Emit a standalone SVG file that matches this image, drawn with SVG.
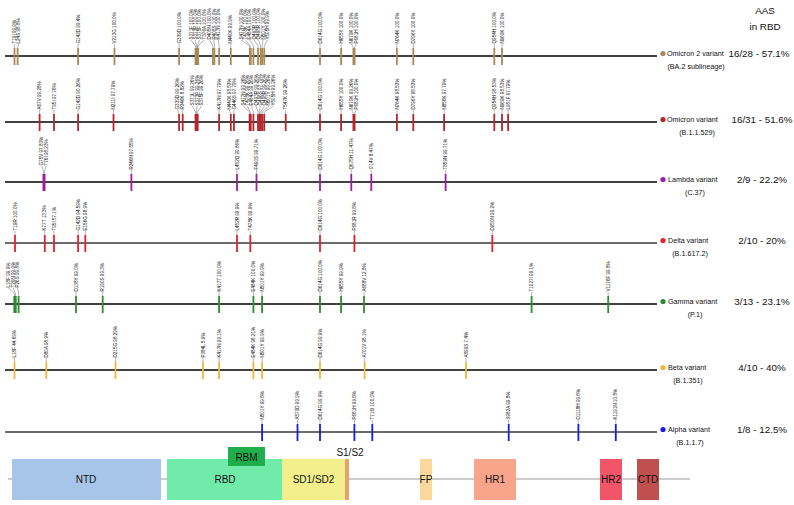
<svg xmlns="http://www.w3.org/2000/svg" width="794" height="505" viewBox="0 0 794 505">
<style>
.hl{stroke:#000;stroke-width:1.4}
.hg{stroke:#6b6b6b;stroke-width:2}
.t{stroke-width:1.8}
.ld{fill:none;stroke:#444;stroke-width:0.4}
.m{font-family:"Liberation Sans",Arial,sans-serif;font-size:4.6px;fill:#111}
.lg{font-family:"Liberation Sans",Arial,sans-serif;font-size:7.2px;fill:#111}
.sb{font-family:"Liberation Sans",Arial,sans-serif;font-size:7.2px;fill:#111;text-anchor:middle}
.nb{font-family:"Liberation Sans",Arial,sans-serif;font-size:9.8px;fill:#111;text-anchor:middle}
.dl{font-family:"Liberation Sans",Arial,sans-serif;font-size:10px;fill:#111;text-anchor:middle}
.o2{stroke:#A8895A}.om{stroke:#B5262E}.la{stroke:#9C1E9C}.de{stroke:#E8202A}.ga{stroke:#2E8B2E}.be{stroke:#F2B53A}.al{stroke:#1A1AE0}
</style>
<rect width="794" height="505" fill="#fff"/>
<text class="nb" x="765" y="14">AAS</text>
<text class="nb" x="765" y="30">in RBD</text>

<g id="connectors">
<!-- Omicron 2 -->
<line class="hl" x1="5" y1="56" x2="657" y2="56"/>
<polyline class="ld" points="14.5,48 14,44"/><polyline class="ld" points="17.6,48 18.6,44"/>
<polyline class="ld" points="78.1,48 78.1,44"/><polyline class="ld" points="114.5,48 114.5,44"/>
<polyline class="ld" points="179.1,48 179.1,44"/>
<polyline class="ld" points="195.5,48 195.5,46 191,40"/><polyline class="ld" points="196.5,48 196.5,46 195.3,40"/>
<polyline class="ld" points="197.5,48 197.5,46 199.6,40"/><polyline class="ld" points="198,48 198,46 203.9,40"/>
<polyline class="ld" points="212.9,48 212.9,46 209.5,40"/><polyline class="ld" points="214.4,48 214.4,46 214,40"/>
<polyline class="ld" points="219.1,48 219.1,46 218.5,40"/><polyline class="ld" points="230.8,48 230.8,44"/>
<polyline class="ld" points="249.8,48 249.8,46 241,40"/><polyline class="ld" points="250.3,48 250.3,46 245.4,40"/>
<polyline class="ld" points="253.4,48 253.4,46 249.8,40"/><polyline class="ld" points="258,48 258,46 254.2,40"/>
<polyline class="ld" points="260.6,48 260.6,46 258.6,40"/><polyline class="ld" points="262.1,48 262.1,46 263,40"/>
<polyline class="ld" points="264.2,48 264.2,46 267.4,40"/>
<polyline class="ld" points="320,48 320,44"/><polyline class="ld" points="341.1,48 341.1,44"/>
<polyline class="ld" points="353.4,48 351.5,44"/><polyline class="ld" points="354.4,48 356,44"/>
<polyline class="ld" points="396.9,48 396.9,44"/><polyline class="ld" points="413.3,48 413.3,44"/>
<polyline class="ld" points="494.3,48 494.3,44"/><polyline class="ld" points="502,48 502,44"/>
<!-- Omicron -->
<line class="hl" x1="5" y1="122" x2="657" y2="122"/>
<polyline class="ld" points="39.6,114 39.6,110"/><polyline class="ld" points="54,114 54,110"/>
<polyline class="ld" points="78.1,114 78.1,110"/><polyline class="ld" points="113.5,114 113.5,110"/>
<polyline class="ld" points="179.1,114 177.8,110"/><polyline class="ld" points="182.7,114 182.3,110"/>
<polyline class="ld" points="195.5,114 195.5,112 192.5,106"/><polyline class="ld" points="196.5,114 196.5,112 197,106"/>
<polyline class="ld" points="197.5,114 197.5,112 201.5,106"/>
<polyline class="ld" points="219.1,114 219.1,110"/>
<polyline class="ld" points="230.8,114 229.3,110"/><polyline class="ld" points="233.9,114 234,110"/>
<polyline class="ld" points="249.8,114 249.8,112 243,106"/><polyline class="ld" points="250.3,114 250.3,112 247.3,106"/>
<polyline class="ld" points="253.4,114 253.4,112 251.6,106"/><polyline class="ld" points="258,114 258,112 255.9,106"/>
<polyline class="ld" points="259.5,114 259.5,112 260.2,106"/><polyline class="ld" points="260.6,114 260.6,112 264.5,106"/>
<polyline class="ld" points="262.1,114 262.1,112 268.8,106"/><polyline class="ld" points="264.2,114 264.2,112 273.1,106"/>
<polyline class="ld" points="285.7,114 285.7,110"/><polyline class="ld" points="320,114 320,110"/>
<polyline class="ld" points="341.1,114 341.1,110"/><polyline class="ld" points="353.4,114 351.8,110"/>
<polyline class="ld" points="354.4,114 356.2,110"/><polyline class="ld" points="396.9,114 396.9,110"/>
<polyline class="ld" points="413.3,114 413.3,110"/><polyline class="ld" points="444.1,114 444.1,110"/>
<polyline class="ld" points="494.3,114 494.3,110"/><polyline class="ld" points="502,114 502,110"/>
<polyline class="ld" points="508.1,114 508.1,110"/>
<!-- Lambda -->
<line class="hl" x1="5" y1="182" x2="657" y2="182"/>
<polyline class="ld" points="43.7,174 43.7,172 41.8,166"/><polyline class="ld" points="44.3,174 44.3,172 46.2,166"/>
<polyline class="ld" points="131.4,174 131.4,170"/><polyline class="ld" points="237,174 237,170"/>
<polyline class="ld" points="256.5,174 256.5,170"/><polyline class="ld" points="320,174 320,170"/>
<polyline class="ld" points="351.3,174 351.3,170"/><polyline class="ld" points="371.3,174 371.3,170"/>
<polyline class="ld" points="445.6,174 445.6,170"/>
<!-- Delta -->
<line class="hg" x1="5" y1="243" x2="657" y2="243"/>
<polyline class="ld" points="15,235 15,231"/><polyline class="ld" points="44.8,235 44.8,231"/>
<polyline class="ld" points="54,235 54,231"/><polyline class="ld" points="78.1,235 78.1,231"/>
<polyline class="ld" points="85.3,235 85.3,231"/><polyline class="ld" points="237,235 237,231"/>
<polyline class="ld" points="250.3,235 250.3,231"/><polyline class="ld" points="320,235 320,231"/>
<polyline class="ld" points="354.4,235 354.4,231"/><polyline class="ld" points="492.3,235 492.3,231"/>
<!-- Gamma -->
<line class="hl" x1="5" y1="304" x2="657" y2="304"/>
<polyline class="ld" points="14.5,296 14.5,294 8.5,288"/><polyline class="ld" points="15.6,296 15.6,294 13,288"/>
<polyline class="ld" points="18.6,296 18.6,294 17.5,288"/>
<polyline class="ld" points="76,296 76,292"/><polyline class="ld" points="102.7,296 102.7,292"/>
<polyline class="ld" points="219.1,296 219.1,292"/><polyline class="ld" points="253.4,296 253.4,292"/>
<polyline class="ld" points="262.1,296 262.1,292"/><polyline class="ld" points="320,296 320,292"/>
<polyline class="ld" points="341.1,296 341.1,292"/><polyline class="ld" points="364,296 364,292"/>
<polyline class="ld" points="531.6,296 531.6,292"/><polyline class="ld" points="608.2,296 608.2,292"/>
<!-- Beta -->
<line class="hl" x1="5" y1="370" x2="657" y2="370"/>
<polyline class="ld" points="14.5,362 14.5,358"/><polyline class="ld" points="46.3,362 46.3,358"/>
<polyline class="ld" points="115.5,362 115.5,358"/><polyline class="ld" points="203,362 203,358"/>
<polyline class="ld" points="219.1,362 219.1,358"/><polyline class="ld" points="253.4,362 253.4,358"/>
<polyline class="ld" points="262.1,362 262.1,358"/><polyline class="ld" points="320,362 320,358"/>
<polyline class="ld" points="364.6,362 364.6,358"/><polyline class="ld" points="466,362 466,358"/>
<!-- Alpha -->
<line class="hg" x1="5" y1="432" x2="657" y2="432"/>
<polyline class="ld" points="262.1,424 262.1,420"/><polyline class="ld" points="297.5,424 297.5,420"/>
<polyline class="ld" points="320,424 320,420"/><polyline class="ld" points="354.4,424 354.4,420"/>
<polyline class="ld" points="372.3,424 372.3,420"/><polyline class="ld" points="508.7,424 508.7,420"/>
<polyline class="ld" points="578.4,424 578.4,420"/><polyline class="ld" points="615.8,424 615.8,420"/>
</g>

<g id="omicron2">
<g class="t o2">
<line x1="14.5" y1="48" x2="14.5" y2="65"/><line x1="17.6" y1="48" x2="17.6" y2="65"/><line x1="78.1" y1="48" x2="78.1" y2="65"/><line x1="114.5" y1="48" x2="114.5" y2="65"/><line x1="179.1" y1="48" x2="179.1" y2="65"/><line x1="195.5" y1="48" x2="195.5" y2="65"/><line x1="196.5" y1="48" x2="196.5" y2="65"/><line x1="197.5" y1="48" x2="197.5" y2="65"/><line x1="198.2" y1="48" x2="198.2" y2="65"/><line x1="212.9" y1="48" x2="212.9" y2="65"/><line x1="214.4" y1="48" x2="214.4" y2="65"/><line x1="219.1" y1="48" x2="219.1" y2="65"/><line x1="230.8" y1="48" x2="230.8" y2="65"/><line x1="249.8" y1="48" x2="249.8" y2="65"/><line x1="250.8" y1="48" x2="250.8" y2="65"/><line x1="253.4" y1="48" x2="253.4" y2="65"/><line x1="258" y1="48" x2="258" y2="65"/><line x1="260.6" y1="48" x2="260.6" y2="65"/><line x1="262.1" y1="48" x2="262.1" y2="65"/><line x1="264.2" y1="48" x2="264.2" y2="65"/><line x1="320" y1="48" x2="320" y2="65"/><line x1="341.1" y1="48" x2="341.1" y2="65"/><line x1="353.4" y1="48" x2="353.4" y2="65"/><line x1="354.6" y1="48" x2="354.6" y2="65"/><line x1="396.9" y1="48" x2="396.9" y2="65"/><line x1="413.3" y1="48" x2="413.3" y2="65"/><line x1="494.3" y1="48" x2="494.3" y2="65"/><line x1="502" y1="48" x2="502" y2="65"/>
</g>
<text class="m" transform="translate(15.6,43.5) rotate(-90)">T19I 99.9%</text>
<text class="m" transform="translate(20.2,43.5) rotate(-90)">L24S 98.8%</text>
<text class="m" transform="translate(79.7,43.5) rotate(-90)">G142D 99.4%</text>
<text class="m" transform="translate(116.1,43.5) rotate(-90)">V213G 100.0%</text>
<text class="m" transform="translate(180.7,43.5) rotate(-90)">G339D 100.0%</text>
<text class="m" transform="translate(192.6,39.5) rotate(-90)">S371F 100.0%</text>
<text class="m" transform="translate(196.9,39.5) rotate(-90)">S373P 100.0%</text>
<text class="m" transform="translate(201.2,39.5) rotate(-90)">S375F 100.0%</text>
<text class="m" transform="translate(205.5,39.5) rotate(-90)">T376A 100.0%</text>
<text class="m" transform="translate(211.1,39.5) rotate(-90)">D405N 100.0%</text>
<text class="m" transform="translate(215.6,39.5) rotate(-90)">R408S 100.0%</text>
<text class="m" transform="translate(220.1,39.5) rotate(-90)">K417N 100.0%</text>
<text class="m" transform="translate(232.4,43.5) rotate(-90)">N440K 99.9%</text>
<text class="m" transform="translate(242.6,39.5) rotate(-90)">S477N 100.0%</text>
<text class="m" transform="translate(247,39.5) rotate(-90)">T478K 100.0%</text>
<text class="m" transform="translate(251.4,39.5) rotate(-90)">E484A 100.0%</text>
<text class="m" transform="translate(255.8,39.5) rotate(-90)">Q493R 100.0%</text>
<text class="m" transform="translate(260.2,39.5) rotate(-90)">Q498R 100.0%</text>
<text class="m" transform="translate(264.6,39.5) rotate(-90)">N501Y 100.0%</text>
<text class="m" transform="translate(269,39.5) rotate(-90)">Y505H 99.9%</text>
<text class="m" transform="translate(321.6,43.5) rotate(-90)">D614G 100.0%</text>
<text class="m" transform="translate(342.7,43.5) rotate(-90)">H655Y 100.0%</text>
<text class="m" transform="translate(353.1,43.5) rotate(-90)">N679K 100.0%</text>
<text class="m" transform="translate(357.6,43.5) rotate(-90)">P681H 100.0%</text>
<text class="m" transform="translate(398.5,43.5) rotate(-90)">N764K 100.0%</text>
<text class="m" transform="translate(414.9,43.5) rotate(-90)">D796Y 100.0%</text>
<text class="m" transform="translate(495.9,43.5) rotate(-90)">Q954H 100.0%</text>
<text class="m" transform="translate(503.6,43.5) rotate(-90)">N969K 100.0%</text>
<circle cx="663" cy="53.5" r="2.6" fill="#A8895A"/>
<text class="lg" x="667" y="56">Omicron 2 variant</text>
<text class="sb" x="696" y="69">(BA.2 sublineage)</text>
<text class="nb" x="759" y="57">16/28 - 57.1%</text>
</g>

<g id="omicron">
<g class="t om">
<line x1="39.6" y1="114" x2="39.6" y2="131"/><line x1="54" y1="114" x2="54" y2="131"/><line x1="78.1" y1="114" x2="78.1" y2="131"/><line x1="113.5" y1="114" x2="113.5" y2="131"/><line x1="179.1" y1="114" x2="179.1" y2="131"/><line x1="182.7" y1="114" x2="182.7" y2="131"/><line x1="195.5" y1="114" x2="195.5" y2="131"/><line x1="196.6" y1="114" x2="196.6" y2="131"/><line x1="197.7" y1="114" x2="197.7" y2="131"/><line x1="219.1" y1="114" x2="219.1" y2="131"/><line x1="230.8" y1="114" x2="230.8" y2="131"/><line x1="233.9" y1="114" x2="233.9" y2="131"/><line x1="249.6" y1="114" x2="249.6" y2="131"/><line x1="250.8" y1="114" x2="250.8" y2="131"/><line x1="253.4" y1="114" x2="253.4" y2="131"/><line x1="258" y1="114" x2="258" y2="131"/><line x1="259.4" y1="114" x2="259.4" y2="131"/><line x1="260.7" y1="114" x2="260.7" y2="131"/><line x1="262.1" y1="114" x2="262.1" y2="131"/><line x1="264.2" y1="114" x2="264.2" y2="131"/><line x1="285.7" y1="114" x2="285.7" y2="131"/><line x1="320" y1="114" x2="320" y2="131"/><line x1="341.1" y1="114" x2="341.1" y2="131"/><line x1="353.4" y1="114" x2="353.4" y2="131"/><line x1="354.6" y1="114" x2="354.6" y2="131"/><line x1="396.9" y1="114" x2="396.9" y2="131"/><line x1="413.3" y1="114" x2="413.3" y2="131"/><line x1="444.1" y1="114" x2="444.1" y2="131"/><line x1="494.3" y1="114" x2="494.3" y2="131"/><line x1="502" y1="114" x2="502" y2="131"/><line x1="508.1" y1="114" x2="508.1" y2="131"/>
</g>
<text class="m" transform="translate(41.2,109.5) rotate(-90)">A67V 99.28%</text>
<text class="m" transform="translate(55.6,109.5) rotate(-90)">T95I 97.76%</text>
<text class="m" transform="translate(79.7,109.5) rotate(-90)">G142D 90.26%</text>
<text class="m" transform="translate(115.1,109.5) rotate(-90)">N211I 97.79%</text>
<text class="m" transform="translate(179.4,109.5) rotate(-90)">G339D 99.26%</text>
<text class="m" transform="translate(183.9,109.5) rotate(-90)">R346K 8.82%</text>
<text class="m" transform="translate(194.1,105.5) rotate(-90)">S371L 99.26%</text>
<text class="m" transform="translate(198.6,105.5) rotate(-90)">S373P 99.26%</text>
<text class="m" transform="translate(203.1,105.5) rotate(-90)">S375F 99.26%</text>
<text class="m" transform="translate(220.7,109.5) rotate(-90)">K417N 97.79%</text>
<text class="m" transform="translate(230.9,109.5) rotate(-90)">N440K 98.53%</text>
<text class="m" transform="translate(235.6,109.5) rotate(-90)">G446S 97.79%</text>
<text class="m" transform="translate(244.6,105.5) rotate(-90)">S477N 99.26%</text>
<text class="m" transform="translate(248.9,105.5) rotate(-90)">T478K 99.26%</text>
<text class="m" transform="translate(253.2,105.5) rotate(-90)">E484A 99.26%</text>
<text class="m" transform="translate(257.5,105.5) rotate(-90)">Q493R 99.26%</text>
<text class="m" transform="translate(261.8,105.5) rotate(-90)">G496S 97.79%</text>
<text class="m" transform="translate(266.1,105.5) rotate(-90)">Q498R 99.26%</text>
<text class="m" transform="translate(270.4,105.5) rotate(-90)">N501Y 99.26%</text>
<text class="m" transform="translate(274.7,105.5) rotate(-90)">Y505H 99.26%</text>
<text class="m" transform="translate(287.3,109.5) rotate(-90)">T547K 99.26%</text>
<text class="m" transform="translate(321.6,109.5) rotate(-90)">D614G 100.0%</text>
<text class="m" transform="translate(342.7,109.5) rotate(-90)">H655Y 100.0%</text>
<text class="m" transform="translate(353.4,109.5) rotate(-90)">N679K 99.26%</text>
<text class="m" transform="translate(357.8,109.5) rotate(-90)">P681H 100.0%</text>
<text class="m" transform="translate(398.5,109.5) rotate(-90)">N764K 98.53%</text>
<text class="m" transform="translate(414.9,109.5) rotate(-90)">D796Y 98.53%</text>
<text class="m" transform="translate(445.7,109.5) rotate(-90)">N856K 97.79%</text>
<text class="m" transform="translate(495.9,109.5) rotate(-90)">Q954H 98.53%</text>
<text class="m" transform="translate(503.6,109.5) rotate(-90)">N969K 98.53%</text>
<text class="m" transform="translate(509.7,109.5) rotate(-90)">L981F 97.79%</text>
<circle cx="663" cy="119.5" r="2.6" fill="#B5262E"/>
<text class="lg" x="667" y="122">Omicron variant</text>
<text class="sb" x="697" y="135">(B.1.1.529)</text>
<text class="nb" x="762" y="123">16/31 - 51.6%</text>
</g>

<g id="lambda">
<g class="t la">
<line x1="43.4" y1="174" x2="43.4" y2="191"/><line x1="44.6" y1="174" x2="44.6" y2="191"/><line x1="131.4" y1="174" x2="131.4" y2="191"/><line x1="237" y1="174" x2="237" y2="191"/><line x1="256.5" y1="174" x2="256.5" y2="191"/><line x1="320" y1="174" x2="320" y2="191"/><line x1="351.3" y1="174" x2="351.3" y2="191"/><line x1="371.3" y1="174" x2="371.3" y2="191"/><line x1="445.6" y1="174" x2="445.6" y2="191"/>
</g>
<text class="m" transform="translate(43.4,165.5) rotate(-90)">G75V 97.83%</text>
<text class="m" transform="translate(47.8,165.5) rotate(-90)">T76I 98.23%</text>
<text class="m" transform="translate(133,169.5) rotate(-90)">R246N 97.55%</text>
<text class="m" transform="translate(238.6,169.5) rotate(-90)">L452Q 99.86%</text>
<text class="m" transform="translate(258.1,169.5) rotate(-90)">F490S 99.71%</text>
<text class="m" transform="translate(321.6,169.5) rotate(-90)">D614G 100.0%</text>
<text class="m" transform="translate(352.9,169.5) rotate(-90)">Q675H 11.47%</text>
<text class="m" transform="translate(372.9,169.5) rotate(-90)">I714V 8.47%</text>
<text class="m" transform="translate(447.2,169.5) rotate(-90)">T859N 99.71%</text>
<circle cx="663" cy="179.5" r="2.6" fill="#9C1E9C"/>
<text class="lg" x="668" y="182">Lambda variant</text>
<text class="sb" x="695" y="195">(C.37)</text>
<text class="nb" x="762" y="183">2/9 - 22.2%</text>
</g>

<g id="delta">
<g class="t de">
<line x1="15" y1="235" x2="15" y2="252"/><line x1="44.8" y1="235" x2="44.8" y2="252"/><line x1="54" y1="235" x2="54" y2="252"/><line x1="78.1" y1="235" x2="78.1" y2="252"/><line x1="85.3" y1="235" x2="85.3" y2="252"/><line x1="237" y1="235" x2="237" y2="252"/><line x1="250.3" y1="235" x2="250.3" y2="252"/><line x1="320" y1="235" x2="320" y2="252"/><line x1="354.4" y1="235" x2="354.4" y2="252"/><line x1="492.3" y1="235" x2="492.3" y2="252"/>
</g>
<text class="m" transform="translate(16.6,230.5) rotate(-90)">T19R 100.0%</text>
<text class="m" transform="translate(46.4,230.5) rotate(-90)">K77T 13.3%</text>
<text class="m" transform="translate(55.6,230.5) rotate(-90)">T95I 57.1%</text>
<text class="m" transform="translate(79.7,230.5) rotate(-90)">G142D 94.59%</text>
<text class="m" transform="translate(86.9,230.5) rotate(-90)">E156G 98.9%</text>
<text class="m" transform="translate(238.6,230.5) rotate(-90)">L452R 99.9%</text>
<text class="m" transform="translate(251.9,230.5) rotate(-90)">T478K 99.9%</text>
<text class="m" transform="translate(321.6,230.5) rotate(-90)">D614G 100.0%</text>
<text class="m" transform="translate(356,230.5) rotate(-90)">P681R 99.8%</text>
<text class="m" transform="translate(493.9,230.5) rotate(-90)">D950N 99.2%</text>
<circle cx="663" cy="240.5" r="2.6" fill="#E8202A"/>
<text class="lg" x="668" y="243">Delta variant</text>
<text class="sb" x="690" y="256">(B.1.617.2)</text>
<text class="nb" x="762" y="244">2/10 - 20%</text>
</g>

<g id="gamma">
<g class="t ga">
<line x1="14.3" y1="296" x2="14.3" y2="313"/><line x1="15.8" y1="296" x2="15.8" y2="313"/><line x1="18.6" y1="296" x2="18.6" y2="313"/><line x1="76" y1="296" x2="76" y2="313"/><line x1="102.7" y1="296" x2="102.7" y2="313"/><line x1="219.1" y1="296" x2="219.1" y2="313"/><line x1="253.4" y1="296" x2="253.4" y2="313"/><line x1="262.1" y1="296" x2="262.1" y2="313"/><line x1="320" y1="296" x2="320" y2="313"/><line x1="341.1" y1="296" x2="341.1" y2="313"/><line x1="364" y1="296" x2="364" y2="313"/><line x1="531.6" y1="296" x2="531.6" y2="313"/><line x1="608.2" y1="296" x2="608.2" y2="313"/>
</g>
<text class="m" transform="translate(10.1,287.5) rotate(-90)">L18F 99.9%</text>
<text class="m" transform="translate(14.6,287.5) rotate(-90)">T20N 99.9%</text>
<text class="m" transform="translate(19.1,287.5) rotate(-90)">P26S 99.8%</text>
<text class="m" transform="translate(77.6,291.5) rotate(-90)">D138Y 99.0%</text>
<text class="m" transform="translate(104.3,291.5) rotate(-90)">R190S 99.3%</text>
<text class="m" transform="translate(220.7,291.5) rotate(-90)">K417T 100.0%</text>
<text class="m" transform="translate(255,291.5) rotate(-90)">E484K 100.0%</text>
<text class="m" transform="translate(263.7,291.5) rotate(-90)">N501Y 99.9%</text>
<text class="m" transform="translate(321.6,291.5) rotate(-90)">D614G 100.0%</text>
<text class="m" transform="translate(342.7,291.5) rotate(-90)">H655Y 99.9%</text>
<text class="m" transform="translate(365.6,291.5) rotate(-90)">A688V 12.8%</text>
<text class="m" transform="translate(533.2,291.5) rotate(-90)">T1027I 99.1%</text>
<text class="m" transform="translate(609.8,291.5) rotate(-90)">V1176F 99.8%</text>
<circle cx="663" cy="301.5" r="2.6" fill="#2E8B2E"/>
<text class="lg" x="668" y="304">Gamma variant</text>
<text class="sb" x="695" y="317">(P.1)</text>
<text class="nb" x="762" y="305">3/13 - 23.1%</text>
</g>

<g id="beta">
<g class="t be">
<line x1="14.5" y1="362" x2="14.5" y2="379"/><line x1="46.3" y1="362" x2="46.3" y2="379"/><line x1="115.5" y1="362" x2="115.5" y2="379"/><line x1="203" y1="362" x2="203" y2="379"/><line x1="219.1" y1="362" x2="219.1" y2="379"/><line x1="253.4" y1="362" x2="253.4" y2="379"/><line x1="262.1" y1="362" x2="262.1" y2="379"/><line x1="320" y1="362" x2="320" y2="379"/><line x1="364.6" y1="362" x2="364.6" y2="379"/><line x1="466" y1="362" x2="466" y2="379"/>
</g>
<text class="m" transform="translate(16.1,357.5) rotate(-90)">L18F 44.69%</text>
<text class="m" transform="translate(47.9,357.5) rotate(-90)">D80A 98.9%</text>
<text class="m" transform="translate(117.1,357.5) rotate(-90)">D215G 98.29%</text>
<text class="m" transform="translate(204.6,357.5) rotate(-90)">P384L 5.9%</text>
<text class="m" transform="translate(220.7,357.5) rotate(-90)">K417N 99.1%</text>
<text class="m" transform="translate(255,357.5) rotate(-90)">E484K 96.21%</text>
<text class="m" transform="translate(263.7,357.5) rotate(-90)">N501Y 99.9%</text>
<text class="m" transform="translate(321.6,357.5) rotate(-90)">D614G 99.9%</text>
<text class="m" transform="translate(366.2,357.5) rotate(-90)">A701V 98.1%</text>
<text class="m" transform="translate(467.6,357.5) rotate(-90)">A899S 7.4%</text>
<circle cx="663" cy="367.5" r="2.6" fill="#F2B53A"/>
<text class="lg" x="668" y="370">Beta variant</text>
<text class="sb" x="688" y="383">(B.1.351)</text>
<text class="nb" x="762" y="371">4/10 - 40%</text>
</g>

<g id="alpha">
<g class="t al">
<line x1="262.1" y1="424" x2="262.1" y2="441"/><line x1="297.5" y1="424" x2="297.5" y2="441"/><line x1="320" y1="424" x2="320" y2="441"/><line x1="354.4" y1="424" x2="354.4" y2="441"/><line x1="372.3" y1="424" x2="372.3" y2="441"/><line x1="508.7" y1="424" x2="508.7" y2="441"/><line x1="578.4" y1="424" x2="578.4" y2="441"/><line x1="615.8" y1="424" x2="615.8" y2="441"/>
</g>
<text class="m" transform="translate(263.7,419.5) rotate(-90)">N501Y 99.8%</text>
<text class="m" transform="translate(299.1,419.5) rotate(-90)">A570D 99.9%</text>
<text class="m" transform="translate(321.6,419.5) rotate(-90)">D614G 99.9%</text>
<text class="m" transform="translate(356,419.5) rotate(-90)">P681H 99.8%</text>
<text class="m" transform="translate(373.9,419.5) rotate(-90)">T716I 100.0%</text>
<text class="m" transform="translate(510.3,419.5) rotate(-90)">S982A 99.8%</text>
<text class="m" transform="translate(580,419.5) rotate(-90)">D1118H 99.8%</text>
<text class="m" transform="translate(617.4,419.5) rotate(-90)">K1191N 10.8%</text>
<circle cx="663" cy="429.5" r="2.6" fill="#1A1AE0"/>
<text class="lg" x="668" y="432">Alpha variant</text>
<text class="sb" x="690" y="445">(B.1.1.7)</text>
<text class="nb" x="762" y="433">1/8 - 12.5%</text>
</g>

<g id="spike-domains">
<line x1="8" y1="479" x2="690" y2="479" stroke="#999" stroke-width="1.2"/>
<g id="ntd"><rect x="12" y="459" width="149" height="41" fill="#A7C5E8"/><text class="dl" x="86" y="483">NTD</text></g>
<g id="rbd"><rect x="167" y="459" width="115" height="41" fill="#71EBAA"/><text class="dl" x="225" y="483">RBD</text></g>
<g id="rbm"><rect x="228" y="447" width="37" height="19" fill="#1FAE4B"/><text class="dl" x="246.5" y="460.5">RBM</text></g>
<g id="sd"><rect x="282" y="459" width="63" height="41" fill="#F3EE8C"/><text class="dl" x="313.5" y="483">SD1/SD2</text></g>
<g id="s1s2"><rect x="345" y="459" width="4" height="41" fill="#E3A36E"/><text class="dl" x="350" y="456">S1/S2</text></g>
<g id="fp"><rect x="420" y="459" width="12" height="41" fill="#FAD89C"/><text class="dl" x="426" y="483">FP</text></g>
<g id="hr1"><rect x="474" y="459" width="42" height="41" fill="#F9A58C"/><text class="dl" x="495" y="483">HR1</text></g>
<g id="hr2"><rect x="600" y="459" width="22" height="41" fill="#F25468"/><text class="dl" x="611" y="483">HR2</text></g>
<g id="ctd"><rect x="637" y="459" width="22" height="41" fill="#C0504D"/><text class="dl" x="648" y="483">CTD</text></g>
</g>
</svg>
